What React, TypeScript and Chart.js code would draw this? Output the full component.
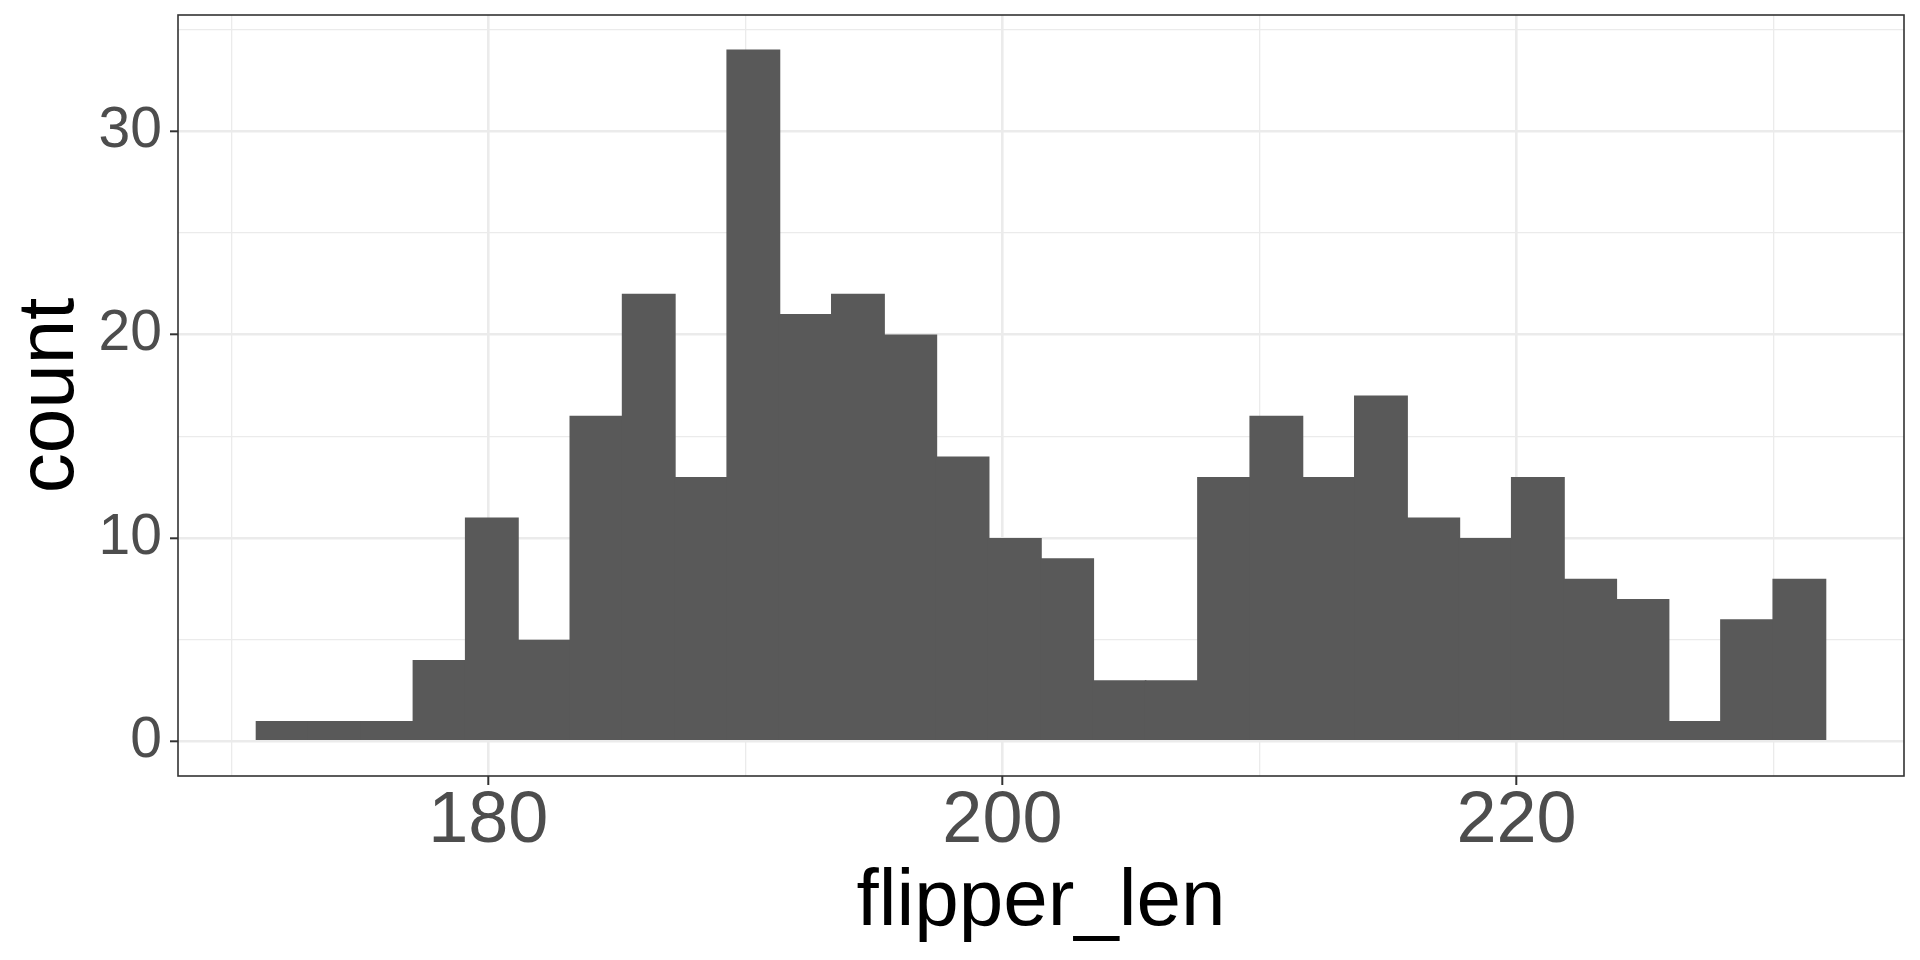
import React, { useEffect, useRef } from "react";
import { Chart, registerables } from "chart.js";

Chart.register(...registerables);

// Histogram bin centres (flipper length, mm) and counts
const binCenters = [
  172.0, 174.0345, 176.069, 178.1034, 180.1379, 182.1724, 184.2069, 186.2414,
  188.2759, 190.3103, 192.3448, 194.3793, 196.4138, 198.4483, 200.4828,
  202.5172, 204.5517, 206.5862, 208.6207, 210.6552, 212.6897, 214.7241,
  216.7586, 218.7931, 220.8276, 222.8621, 224.8966, 226.931, 228.9655, 231.0,
];
const counts = [
  1, 1, 1, 4, 11, 5, 16, 22, 13, 34, 21, 22, 20, 14, 10, 9, 3, 3, 13, 16, 13,
  17, 11, 10, 13, 8, 7, 1, 6, 8,
];

const xTicks = [170, 180, 190, 200, 210, 220, 230];
const xMajor = [180, 200, 220];
const yTicks = [0, 5, 10, 15, 20, 25, 30, 35];
const yMajor = [0, 10, 20, 30];

const xTitle = "flipper_len";
const yTitle = "count";

const FONT = "'Liberation Sans', Arial, Helvetica, sans-serif";

export default function App() {
  const ref = useRef<HTMLCanvasElement | null>(null);

  useEffect(() => {
    document.body.style.margin = "0";
    const canvas = ref.current;
    if (!canvas) return;

    const panelBorder = {
      id: "panelBorder",
      afterDatasetsDraw(chart: any) {
        const { ctx, chartArea: a } = chart;
        ctx.save();
        ctx.strokeStyle = "#333333";
        ctx.lineWidth = 1.6;
        ctx.strokeRect(a.left, a.top, a.right - a.left, a.bottom - a.top);
        ctx.restore();
      },
    };

    const chart = new Chart(canvas, {
      type: "bar",
      data: {
        datasets: [
          {
            data: binCenters.map((x, i) => ({ x, y: counts[i] })),
            backgroundColor: "#595959",
            borderWidth: 0,
            barPercentage: 1.03,
            categoryPercentage: 1,
          },
        ],
      },
      options: {
        animation: false,
        responsive: true,
        maintainAspectRatio: false,
        layout: { padding: { top: 15, right: 16, left: 0, bottom: 0 } },
        plugins: {
          legend: { display: false },
          tooltip: { enabled: false },
        },
        scales: {
          x: {
            type: "linear",
            offset: false,
            min: 167.93,
            max: 235.07,
            afterBuildTicks: (s: any) => {
              s.ticks = xTicks.map((v) => ({ value: v }));
            },
            afterFit: (s: any) => {
              s.height = 184;
              s.paddingLeft = 0;
              s.paddingRight = 0;
            },
            border: { display: false },
            grid: {
              offset: false,
              color: "#EBEBEB",
              lineWidth: (c: any) =>
                xMajor.includes(c.tick?.value) ? 2.6 : 1.3,
              drawTicks: true,
              tickLength: 9,
              tickWidth: 2,
              tickColor: (c: any) =>
                xMajor.includes(c.tick?.value) ? "#333333" : "rgba(0,0,0,0)",
            },
            ticks: {
              autoSkip: false,
              maxRotation: 0,
              color: "#4D4D4D",
              font: { family: FONT, size: 72 },
              padding: -6,
              callback: (v: any) => (xMajor.includes(Number(v)) ? String(v) : ""),
            },
            title: {
              display: true,
              text: xTitle,
              color: "#000000",
              font: { family: FONT, size: 80 },
              padding: { top: 0, bottom: 9 },
            },
          },
          y: {
            type: "linear",
            min: -1.7,
            max: 35.7,
            afterBuildTicks: (s: any) => {
              s.ticks = yTicks.map((v) => ({ value: v }));
            },
            afterFit: (s: any) => {
              s.width = 178;
              s.paddingTop = 0;
              s.paddingBottom = 0;
            },
            border: { display: false },
            grid: {
              color: "#EBEBEB",
              lineWidth: (c: any) =>
                yMajor.includes(c.tick?.value) ? 2.6 : 1.3,
              drawTicks: true,
              tickLength: 8,
              tickWidth: 2,
              tickColor: (c: any) =>
                yMajor.includes(c.tick?.value) ? "#333333" : "rgba(0,0,0,0)",
            },
            ticks: {
              autoSkip: false,
              color: "#4D4D4D",
              font: { family: FONT, size: 57 },
              padding: 8,
              callback: (v: any) => (yMajor.includes(Number(v)) ? String(v) : ""),
            },
            title: {
              display: true,
              text: yTitle,
              color: "#000000",
              font: { family: FONT, size: 80 },
              padding: { top: 3, bottom: 0 },
            },
          },
        },
      },
      plugins: [panelBorder],
    } as any);

    return () => chart.destroy();
  }, []);

  return (
    <div style={{ width: 1920, height: 960, position: "relative" }}>
      <canvas ref={ref} />
    </div>
  );
}
